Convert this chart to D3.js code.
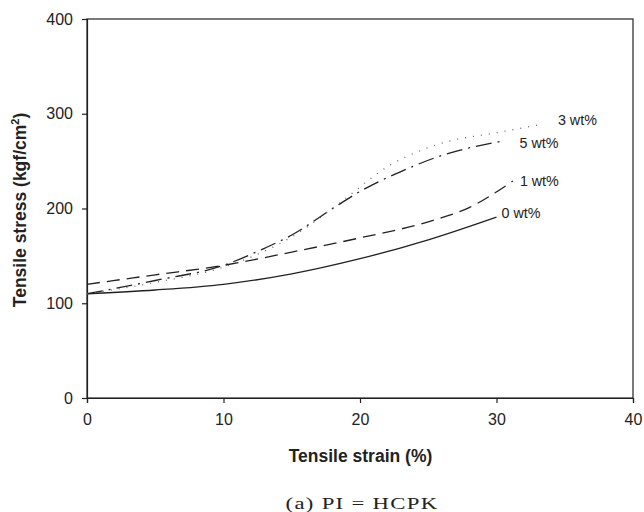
<!DOCTYPE html>
<html><head><meta charset="utf-8">
<script src="https://cdn.jsdelivr.net/npm/d3@7"></script>
<style>body{margin:0;background:#fff}svg{display:block}</style>
</head><body><svg id="c" width="644" height="512"></svg>
<script>
const xTicks = [0, 10, 20, 30, 40];
const yTicks = [0, 100, 200, 300, 400];
const seriesNames = ["0 wt%", "1 wt%", "5 wt%", "3 wt%"];
const s0 = [[0,110],[5,114],[10,120],[15,131],[20,147],[25,167],[30,191]];
const s1 = [[0,120],[5,130],[10,140],[15,154],[20,169],[25,186],[28,201],[31.2,229]];
const s5 = [[0,110],[5,124],[10,140],[13,158],[15,172],[18,200],[20,218],[23,239],[26,256],[28,264],[30.4,271]];
const s3 = [[0,110],[5,122],[10,138],[13,155],[15,170],[18.7,208],[22,244],[26,269],[30,280],[33,288]];
const labelPos = [[30,191],[31.2,229],[30.4,271],[33,288]];

const svg = d3.select("#c");
const x = d3.scaleLinear().domain([0,40]).range([87,633]);
const y = d3.scaleLinear().domain([0,400]).range([398,19]);
const font = "'Liberation Sans', Arial, sans-serif";

// frame
svg.append("rect").attr("x",87).attr("y",19).attr("width",546).attr("height",379)
  .attr("fill","none").attr("stroke","#222").attr("stroke-width",1.2);

const gx = svg.append("g").attr("transform","translate(0,398)")
  .call(d3.axisBottom(x).tickValues(xTicks).tickSize(5).tickPadding(11));
const gy = svg.append("g").attr("transform","translate(87,0)")
  .call(d3.axisLeft(y).tickValues(yTicks).tickSize(5).tickPadding(9));
[gx,gy].forEach(g=>{
  g.selectAll("path,line").attr("stroke","#222").attr("stroke-width",1.2);
  g.selectAll("text").attr("font-family",font).attr("font-size",16).attr("fill","#222");
});

const line = d3.line().x(d=>x(d[0])).y(d=>y(d[1])).curve(d3.curveMonotoneX);
const all = [s0,s1,s5,s3];
const dashes = [null,"13,7","16,6,2,6","1,7"];
const colors = ["#222","#222","#222","#666"];
all.forEach((s,i)=>{
  svg.append("path").attr("d",line(s)).attr("fill","none")
    .attr("stroke",colors[i]).attr("stroke-width",1.3)
    .attr("stroke-dasharray",dashes[i]);
});

const labOff = [[5,-4],[7,0],[17.5,2],[20.5,-5]];
seriesNames.forEach((n,i)=>{
  svg.append("text").attr("x",x(labelPos[i][0])+labOff[i][0]).attr("y",y(labelPos[i][1])+labOff[i][1])
    .attr("dy","0.35em").attr("font-family",font).attr("font-size",14.3).attr("fill","#222").text(n);
});

svg.append("text").attr("x",360.5).attr("y",461.5).attr("text-anchor","middle")
  .attr("font-family",font).attr("font-size",17.5).attr("font-weight","bold").attr("fill","#222")
  .text("Tensile strain (%)");

const yt = svg.append("text").attr("transform","translate(26,210) rotate(-90)")
  .attr("text-anchor","middle").attr("font-family",font).attr("font-size",17.5)
  .attr("font-weight","bold").attr("fill","#222");
yt.append("tspan").text("Tensile stress (kgf/cm");
yt.append("tspan").attr("dy",-7).attr("font-size",11).text("2");
yt.append("tspan").attr("dy",7).text(")");

svg.append("text").attr("transform","translate(362,509) scale(1.3,1)").attr("text-anchor","middle")
  .attr("font-family","'Liberation Serif', 'DejaVu Serif', serif").attr("font-size",17.5)
  .attr("letter-spacing",1).attr("fill","#222")
  .text("(a) PI = HCPK");
</script></body></html>
